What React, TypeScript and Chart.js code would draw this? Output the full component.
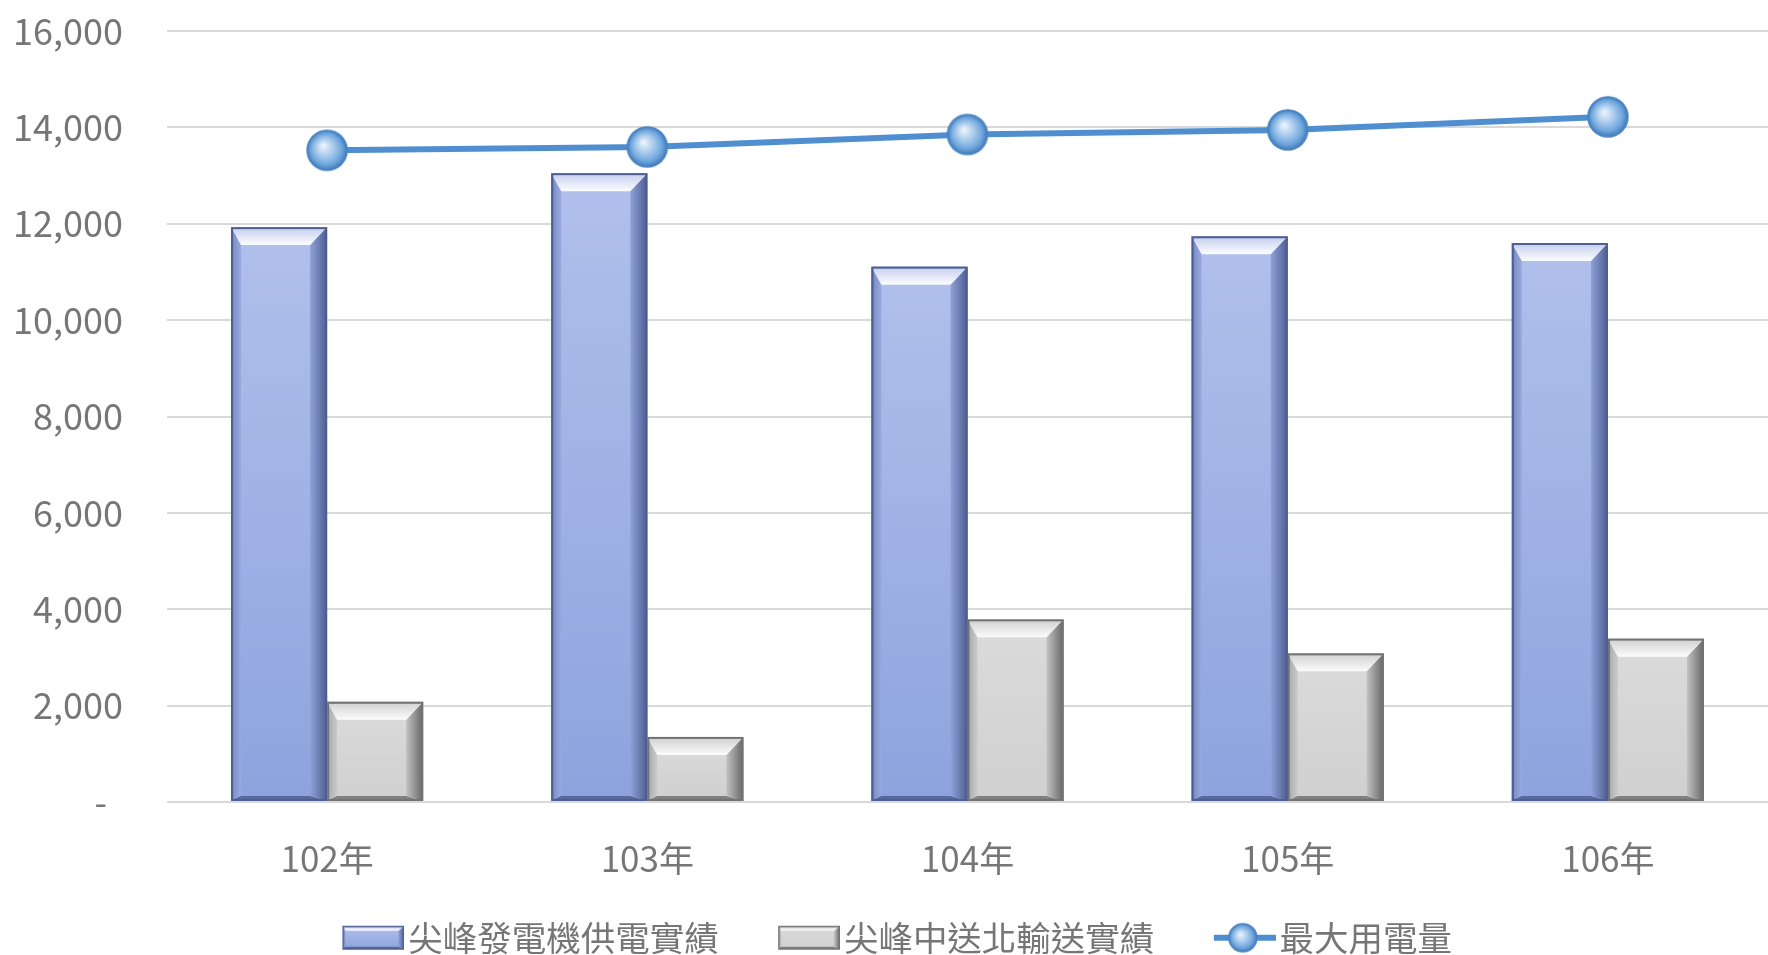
import React, { useEffect, useRef } from 'react';
import { Chart, registerables } from 'chart.js';

Chart.register(...registerables);

// ---- data ----
const categories = ['102年', '103年', '104年', '105年', '106年'];
const generationSupply = [11930, 13050, 11110, 11740, 11600];
const centralToNorth = [2080, 1350, 3790, 3085, 3390];
const peakDemand = [13525, 13595, 13853, 13947, 14218];
const seriesLabels = ['尖峰發電機供電實績', '尖峰中送北輸送實績', '最大用電量'];
const yMin = 0;
const yMax = 16000;
const yStep = 2000;

// ---- styles ----
const FONT = "'Noto Sans CJK TC', 'Noto Sans', sans-serif";
const TEXT = '#767676';
const LINE_COLOR = '#4f8fd1';
const LEGEND_FONT = 34.5;
const LEGEND_BOX_W = 106;
const LEGEND_PAD = 2;

type Pal = {
  faceTop: string; faceBottom: string; topLo: string; topHi: string;
  rightIn: string; rightOut: string; leftIn: string; leftOut: string; bottom: string; border: string;
};

const BLUE: Pal = {
  faceTop: '#b1c0eb', faceBottom: '#8ea3de', topLo: '#c3cdee', topHi: '#fcfdff',
  rightIn: '#8fa2d9', rightOut: '#4c5d90', leftIn: '#98abe0', leftOut: '#7387bf', bottom: '#56689c', border: '#4d5f92',
};
const GRAY: Pal = {
  faceTop: '#dbdbdb', faceBottom: '#d0d0d0', topLo: '#cfcfcf', topHi: '#fcfcfc',
  rightIn: '#c2c2c2', rightOut: '#666666', leftIn: '#cbcbcb', leftOut: '#a6a6a6', bottom: '#808080', border: '#737373',
};

type Bevel = { top: number; right: number; left: number; bottom: number; border: number };
const BAR_BEVEL: Bevel = { top: 18, right: 17, left: 10, bottom: 5, border: 2 };
const LEGEND_BEVEL: Bevel = { top: 5, right: 6, left: 3, bottom: 3, border: 1.5 };

function poly(ctx: CanvasRenderingContext2D, pts: number[][], fill: string | CanvasGradient) {
  ctx.beginPath();
  ctx.moveTo(pts[0][0], pts[0][1]);
  for (let i = 1; i < pts.length; i++) ctx.lineTo(pts[i][0], pts[i][1]);
  ctx.closePath();
  ctx.fillStyle = fill;
  ctx.fill();
}

function drawBevelBox(ctx: CanvasRenderingContext2D, L: number, T: number, R: number, B: number, p: Pal, s: Bevel) {
  const w = R - L;
  const h = B - T;
  if (w <= 0 || h <= 0) return;
  ctx.save();
  let g = ctx.createLinearGradient(0, T, 0, B);
  g.addColorStop(0, p.faceTop);
  g.addColorStop(1, p.faceBottom);
  ctx.fillStyle = g;
  ctx.fillRect(L, T, w, h);
  const tl = L + s.left, tr = R - s.right, tt = T + s.top, tb = B - s.bottom;
  g = ctx.createLinearGradient(L, 0, tl, 0);
  g.addColorStop(0, p.leftOut);
  g.addColorStop(1, p.leftIn);
  poly(ctx, [[L, T], [tl, tt], [tl, tb], [L, B]], g);
  poly(ctx, [[L, B], [tl, tb], [tr, tb], [R, B]], p.bottom);
  g = ctx.createLinearGradient(tr, 0, R, 0);
  g.addColorStop(0, p.rightIn);
  g.addColorStop(1, p.rightOut);
  poly(ctx, [[R, T], [R, B], [tr, tb], [tr, tt]], g);
  g = ctx.createLinearGradient(0, T, 0, tt);
  g.addColorStop(0, p.topLo);
  g.addColorStop(1, p.topHi);
  poly(ctx, [[L, T], [R, T], [tr, tt], [tl, tt]], g);
  ctx.lineWidth = s.border;
  ctx.strokeStyle = p.border;
  ctx.strokeRect(L + s.border / 2, T + s.border / 2, w - s.border, h - s.border);
  ctx.restore();
}

function drawSphere(ctx: CanvasRenderingContext2D, cx: number, cy: number, r: number) {
  const g = ctx.createRadialGradient(cx - r * 0.2, cy - r * 0.25, 0, cx, cy, r);
  g.addColorStop(0, '#f1f7fd');
  g.addColorStop(0.35, '#b8d4f0');
  g.addColorStop(0.78, '#6ea6dd');
  g.addColorStop(1, '#4079b8');
  ctx.beginPath();
  ctx.arc(cx, cy, r, 0, Math.PI * 2);
  ctx.fillStyle = g;
  ctx.fill();
  ctx.lineWidth = 1.5;
  ctx.strokeStyle = '#4a84c2';
  ctx.stroke();
}

function makeCanvas(w: number, h: number) {
  const c = document.createElement('canvas');
  c.width = w;
  c.height = h;
  return c;
}

function makePointImage(r: number) {
  const size = Math.ceil(r * 2 + 4);
  const c = makeCanvas(size, size);
  const ctx = c.getContext('2d')!;
  drawSphere(ctx, size / 2, size / 2, r);
  return c;
}

// legend symbol images: wide transparent canvas with the visible 62px symbol at its right end
const LEGEND_IMG_W = Math.round(LEGEND_BOX_W + 2 * (LEGEND_FONT / 2 - 4));
const SYMBOL_W = 62;

function makeLegendBox(p: Pal) {
  const c = makeCanvas(LEGEND_IMG_W, 26);
  const ctx = c.getContext('2d')!;
  const x0 = LEGEND_IMG_W - SYMBOL_W;
  drawBevelBox(ctx, x0, 1, x0 + SYMBOL_W, 25, p, LEGEND_BEVEL);
  return c;
}

function makeLegendLine() {
  const c = makeCanvas(LEGEND_IMG_W, 32);
  const ctx = c.getContext('2d')!;
  const x0 = LEGEND_IMG_W - SYMBOL_W;
  ctx.fillStyle = LINE_COLOR;
  ctx.fillRect(x0, 13, SYMBOL_W, 6);
  drawSphere(ctx, x0 + 29, 16, 14);
  return c;
}

const bevelPlugin = {
  id: 'bevelBars',
  afterLayout(chart: any) {
    const lg = chart.legend;
    if (lg) {
      lg.right -= 31; // nudge the centred legend row slightly left
      lg.top += 10;
      lg.bottom += 10;
    }
  },
  afterDatasetDraw(chart: any, args: any) {
    const meta = args.meta;
    if (meta.type !== 'bar') return;
    const pal = args.index === 0 ? BLUE : GRAY;
    const ctx = chart.ctx;
    meta.data.forEach((el: any) => {
      const { x, y, base, width } = el.getProps(['x', 'y', 'base', 'width'], true);
      const L = x - width / 2;
      const R = x + width / 2;
      const T = Math.min(y, base);
      const B = Math.max(y, base);
      drawBevelBox(ctx, L, T, R, B, pal, BAR_BEVEL);
    });
  },
};

export default function App() {
  const ref = useRef<HTMLCanvasElement | null>(null);

  useEffect(() => {
    if (!ref.current) return;
    const pointImg = makePointImage(20);
    const legendImgs = [makeLegendBox(BLUE), makeLegendBox(GRAY), makeLegendLine()];

    const chart = new Chart(ref.current, {
      type: 'bar',
      data: {
        labels: categories,
        datasets: [
          {
            label: seriesLabels[0],
            data: generationSupply,
            backgroundColor: BLUE.faceBottom,
            borderWidth: 0,
            categoryPercentage: 0.6,
            barPercentage: 1,
          },
          {
            label: seriesLabels[1],
            data: centralToNorth,
            backgroundColor: GRAY.faceBottom,
            borderWidth: 0,
            categoryPercentage: 0.6,
            barPercentage: 1,
          },
          {
            type: 'line',
            label: seriesLabels[2],
            data: peakDemand,
            borderColor: LINE_COLOR,
            borderWidth: 6,
            tension: 0,
            pointStyle: pointImg,
            pointRadius: 20,
            pointHoverRadius: 20,
            order: -1,
          } as any,
        ],
      },
      options: {
        animation: false,
        responsive: true,
        maintainAspectRatio: false,
        layout: { autoPadding: false, padding: { top: 31, left: 0, right: 0, bottom: 0 } },
        plugins: {
          tooltip: { enabled: false },
          legend: {
            position: 'bottom',
            labels: {
              usePointStyle: true,
              pointStyleWidth: LEGEND_BOX_W,
              padding: LEGEND_PAD,
              color: TEXT,
              font: { family: FONT, size: LEGEND_FONT },
              generateLabels: () =>
                seriesLabels.map((t, i) => ({
                  text: t,
                  pointStyle: legendImgs[i] as any,
                  fillStyle: 'transparent',
                  strokeStyle: 'transparent',
                  lineWidth: 1,
                  hidden: false,
                  datasetIndex: i,
                  fontColor: TEXT,
                })),
            },
          },
        },
        scales: {
          x: {
            grid: { display: false, drawTicks: false },
            border: { display: false },
            ticks: { color: TEXT, font: { family: FONT, size: 35 }, padding: 36 },
            afterFit: (s: any) => {
              s.height = 106.5;
            },
          },
          y: {
            min: yMin,
            max: yMax,
            grid: { color: '#d9d9d9', lineWidth: 2, drawTicks: false },
            border: { display: false },
            ticks: {
              stepSize: yStep,
              color: TEXT,
              font: { family: FONT, size: 36 },
              padding: 44,
              callback: (v: any) => (Number(v) === 0 ? '-  ' : Number(v).toLocaleString('en-US')),
            },
            afterFit: (s: any) => {
              s.width = 167;
              s.paddingTop = 0;
              s.paddingBottom = 0;
            },
          },
        },
      },
      plugins: [bevelPlugin],
    });
    return () => chart.destroy();
  }, []);

  return (
    <div style={{ position: 'fixed', left: 0, top: 0, width: 1768, height: 955, background: '#ffffff' }}>
      <canvas ref={ref} />
    </div>
  );
}
